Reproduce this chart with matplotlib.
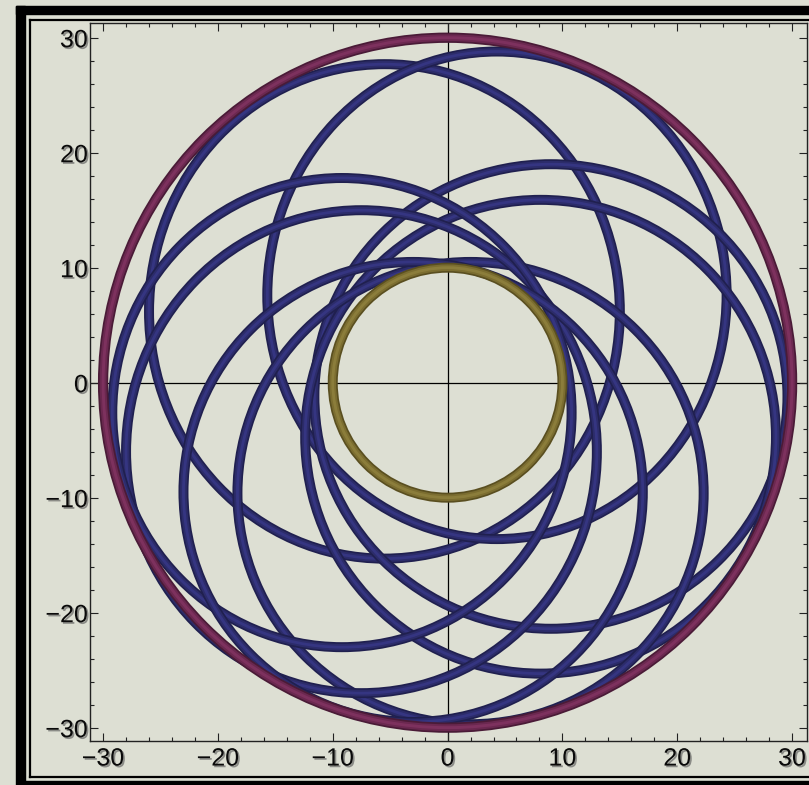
import matplotlib
matplotlib.use("Agg")
import matplotlib.pyplot as plt
from matplotlib.patches import Circle, Ellipse, Rectangle
from matplotlib.lines import Line2D
import matplotlib.patheffects as pe

# ---------------- data ----------------
outer_radius = 30.0          # maroon circle
inner_radius = 10.0          # olive circle
# blue orbit loops: centre x, centre y, half-width, half-height
loop_cx = [-5.5, 4.3, 9.0, 8.1, 2.0, -7.5, -9.2, -3.0]
loop_cy = [6.2, 7.6, -1.2, -4.7, -9.6, -6.0, -2.6, -9.5]
loop_rx = [20.5, 20.0, 20.6, 20.5, 20.3, 20.5, 20.0, 20.0]
loop_ry = [21.5, 21.2, 20.2, 20.6, 20.1, 21.0, 20.4, 20.0]
tick_major = [-30, -20, -10, 0, 10, 20, 30]
tick_labels = ["\u221230", "\u221220", "\u221210", "0", "10", "20", "30"]

# ---------------- figure ----------------
W, H = 809, 785
bg = "#dddfd3"
fig = plt.figure(figsize=(W / 100, H / 100), dpi=100, facecolor=bg)

def fx(px):
    return px / W

def fy(py):
    return 1 - py / H

ax = fig.add_axes([fx(90), fy(741), fx(807) - fx(90), fy(23) - fy(741)])
ax.set_facecolor(bg)
ax.set_xlim(-31.14, 31.3)
ax.set_ylim(-31.16, 31.28)
ax.set_aspect("auto")

# axes lines through the origin
ax.axhline(0, color="black", lw=0.9, zorder=1)
ax.axvline(0, color="black", lw=0.9, zorder=1)

def tube(patch_factory, dark, mid, light, lw, z):
    layers = [(dark, lw, 1.0), (mid, lw * 0.66, 1.0), (light, lw * 0.28, 0.55)]
    for col, w, a in layers:
        p = patch_factory()
        p.set(fill=False, edgecolor=col, lw=w, alpha=a, zorder=z)
        ax.add_patch(p)

# blue loops
for cx, cy, rx, ry in zip(loop_cx, loop_cy, loop_rx, loop_ry):
    tube(lambda cx=cx, cy=cy, rx=rx, ry=ry: Ellipse((cx, cy), 2 * rx, 2 * ry),
         "#20204f", "#2c2c6a", "#3d3d94", 7.2, 2)

# olive inner circle
tube(lambda: Circle((0, 0), inner_radius), "#5a4f20", "#7b6d30", "#9a8b45", 7.2, 3)
# maroon outer circle
tube(lambda: Circle((0, 0), outer_radius), "#4a1b37", "#6b2850", "#8d3a6a", 7.4, 3)

# ticks
ax.set_xticks(tick_major)
ax.set_yticks(tick_major)
ax.set_xticklabels(tick_labels)
ax.set_yticklabels(tick_labels)
ax.set_xticks(range(-30, 31, 2), minor=True)
ax.set_yticks(range(-30, 31, 2), minor=True)
ax.tick_params(which="both", direction="in", top=True, right=True,
               color="#222222", width=0.8)
ax.tick_params(which="major", length=5.5)
ax.tick_params(which="minor", length=3.2)
ax.tick_params(axis="x", which="major", pad=4)
ax.tick_params(axis="y", which="major", pad=1.5)
shadow = [pe.SimplePatchShadow(offset=(1.2, -1.2), shadow_rgbFace="#555555", alpha=0.6), pe.Normal()]
for lab in ax.get_xticklabels() + ax.get_yticklabels():
    lab.set_fontfamily("Liberation Sans")
    lab.set_fontsize(18)
    lab.set_color("#0a0a0a")
    lab.set_path_effects(shadow)
for s in ax.spines.values():
    s.set_color("#222222")
    s.set_linewidth(1.0)

# picture frame around the plot
fig.patches.append(Rectangle((fx(16), 0), fx(25) - fx(16), fy(6), transform=fig.transFigure,
                             color="black", zorder=0))
fig.patches.append(Rectangle((fx(16), fy(14)), 1 - fx(16), fy(6) - fy(14), transform=fig.transFigure,
                             color="black", zorder=0))
fig.patches.append(Rectangle((fx(25), 0), 1 - fx(25), fy(781), transform=fig.transFigure,
                             color="black", zorder=0))
fig.lines.append(Line2D([fx(30), fx(30)], [fy(777), fy(20)], transform=fig.transFigure,
                        color="black", lw=1.6))
fig.lines.append(Line2D([fx(30), 1], [fy(20), fy(20)], transform=fig.transFigure,
                        color="black", lw=1.6))
fig.lines.append(Line2D([fx(30), 1], [fy(777), fy(777)], transform=fig.transFigure,
                        color="black", lw=1.6))

fig.savefig("out.png", dpi=100, facecolor=bg)
